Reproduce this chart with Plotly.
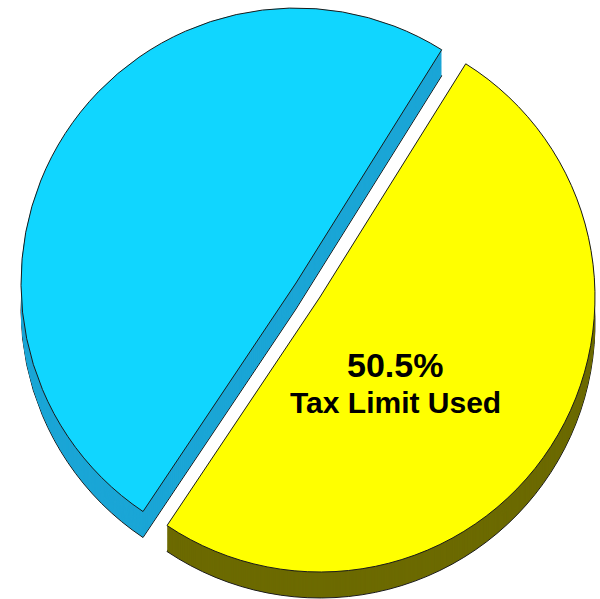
import plotly.graph_objects as go

# Share of the tax limit, in percent
categories = ["Tax Limit Used", "Tax Limit Unused"]
shares = [50.5, 49.5]

W, H = 600, 599

# Face and side colours for each category
top_colors = ["#FFFF00", "#10D6FF"]
side_colors = ["#6C6A00", "#1BA6D6"]
edge = "#1A1A1A"
clear = "rgba(0,0,0,0)"

R = 275            # disc radius in px
DEPTH = 26         # thickness of the disc in px
ROT = 32           # start angle of the first slice, clockwise from 12 o'clock
centers = [(320, 297), (296, 283)]   # exploded slice, resting slice


def domain(cx, cy, r):
    return dict(x=[(cx - r) / W, (cx + r) / W],
                y=[1 - (cy + r) / H, 1 - (cy - r) / H])


def slice_trace(idx, cx, cy, color, line_w):
    colors = [clear, clear]
    widths = [0, 0]
    colors[idx] = color
    widths[idx] = line_w
    return go.Pie(
        labels=categories,
        values=shares,
        sort=False,
        direction="clockwise",
        rotation=ROT,
        domain=domain(cx, cy, R),
        marker=dict(colors=colors, line=dict(color=edge, width=widths)),
        textinfo="none",
        hoverinfo="skip",
        showlegend=False,
    )


fig = go.Figure()

# Extruded sides: stacked copies of each slice, deepest first
for idx, (cx, cy) in enumerate(centers):
    for d in range(DEPTH, 0, -1):
        fig.add_trace(slice_trace(idx, cx, cy + d, side_colors[idx],
                                  1 if d == DEPTH else 0))

# Top faces
for idx, (cx, cy) in enumerate(centers):
    fig.add_trace(slice_trace(idx, cx, cy, top_colors[idx], 1))

font = "Liberation Sans, Arial, sans-serif"
fig.add_annotation(x=395 / W, y=1 - 365 / H, xref="paper", yref="paper",
                   text=f"<b>{shares[0]:.1f}%</b>", showarrow=False,
                   font=dict(family=font, size=34, color="black"),
                   xanchor="center", yanchor="middle")
fig.add_annotation(x=395 / W, y=1 - 402 / H, xref="paper", yref="paper",
                   text=f"<b>{categories[0]}</b>", showarrow=False,
                   font=dict(family=font, size=30, color="black"),
                   xanchor="center", yanchor="middle")

fig.update_layout(
    width=W, height=H,
    margin=dict(l=0, r=0, t=0, b=0),
    paper_bgcolor="white",
    plot_bgcolor="white",
)

fig.write_html("out.html")
